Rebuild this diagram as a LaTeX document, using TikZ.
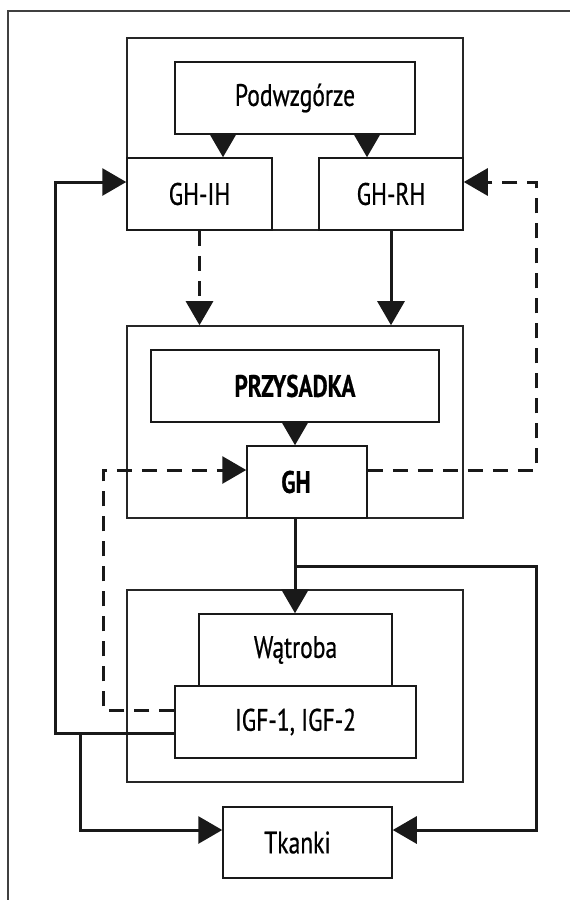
\documentclass[tikz,border=0pt]{standalone}
\usepackage{fontspec}
\setmainfont{PT Sans}[FakeStretch=0.76, FakeBold=0.6, BoldFeatures={FakeStretch=0.75}]
\usetikzlibrary{arrows.meta,positioning,calc}

\newcommand{\organfont}{\fontsize{31}{35}\selectfont}

\begin{document}
\begin{tikzpicture}[x=1pt, y=-1pt,
    group/.style={draw=black!85, line width=1.6pt, fill=white, inner sep=0pt, minimum width=336pt, minimum height=192pt},
    organ/.style={draw=black!90, line width=1.5pt, fill=white, inner sep=0pt, minimum height=72pt, font=\organfont},
    link/.style={line width=3pt, draw=black!90, -{Triangle[length=24pt,width=27pt]}},
    fb/.style={dash pattern=on 15pt off 10pt}
]
    \useasboundingbox (0,0) rectangle (570,900);
    \draw[line width=1.3pt, black!75] (8,900) -- (8,11) -- (570,11);

    % --- Top: hypothalamus ---
    \node[group] (hyp) at (295,134) {};
    \node[organ, minimum width=240pt] (podw) at (295,98) {Podwzgórze};
    \node[organ, minimum width=145pt] (ghih) at (199.5,194) {GH-IH};
    \node[organ, minimum width=144pt] (ghrh) at (391,194) {GH-RH};

    % --- Middle: pituitary ---
    \node[group] (pit) at (295,422) {};
    \node[organ, minimum width=288pt, font=\organfont\bfseries] (przy) at (295,386) {PRZYSADKA};
    \node[organ, minimum width=120pt,
          label={[xshift=-11pt, font=\organfont\bfseries]center:GH}] (gh) at (307,482) {};

    % --- Bottom: liver and tissues ---
    \node[group] (liv) at (295,686) {};
    \node[organ, minimum width=193pt] (wat) at (295.5,650) {Wątroba};
    \node[organ, minimum width=241pt] (igf) at (295.5,722) {IGF-1, IGF-2};
    \node[organ, minimum width=169pt, minimum height=71pt,
          label={[xshift=-10pt, font=\organfont]center:Tkanki}] (tk) at (307.5,842.5) {};

    % Helper columns
    \coordinate (bus) at (55,0);
    \coordinate (tap) at (80,0);
    \coordinate (fbl) at (103,0);
    \coordinate (fbr) at (536,0);
    \coordinate (split) at (przy.south |- 0,566);

    % Hypothalamus to its hormones
    \draw[link] ([xshift=-72pt]podw.south) -- ([xshift=-72pt]podw.south |- ghih.north);
    \draw[link] ([xshift=72pt]podw.south) -- ([xshift=72pt]podw.south |- ghrh.north);

    % Hormones to pituitary
    \draw[link, fb] (ghih.south) -- (ghih.south |- pit.north);
    \draw[link] (ghrh.south) -- (ghrh.south |- pit.north);
    \draw[link] (przy.south) -- (przy.south |- gh.north);

    % GH to liver and tissues
    \draw[link] (przy.south |- gh.south) -- (przy.south |- wat.north);
    \draw[link] (split) -- (split -| fbr) |- ([yshift=12.5pt]tk.east);

    % GH feedback to GH-RH
    \draw[link, fb] ([yshift=12pt]gh.east) -- ([yshift=12pt]gh.east -| fbr)
        -- ([yshift=12pt]ghrh.east -| fbr) -- ([yshift=12pt]ghrh.east);

    % IGF feedback to GH
    \draw[link, fb] ([yshift=12pt]igf.west) -- ([yshift=12pt]igf.west -| fbl)
        -- ([yshift=12pt]gh.west -| fbl) -- ([yshift=12pt]gh.west);

    % IGF feedback to GH-IH and to tissues
    \draw[link] ([yshift=-11pt]igf.west) -- ([yshift=-11pt]igf.west -| bus)
        -- ([yshift=12pt]ghih.west -| bus) -- ([yshift=12pt]ghih.west);
    \draw[link] ([yshift=-11pt]igf.west -| tap) |- ([yshift=12.5pt]tk.west);

\end{tikzpicture}
\end{document}
